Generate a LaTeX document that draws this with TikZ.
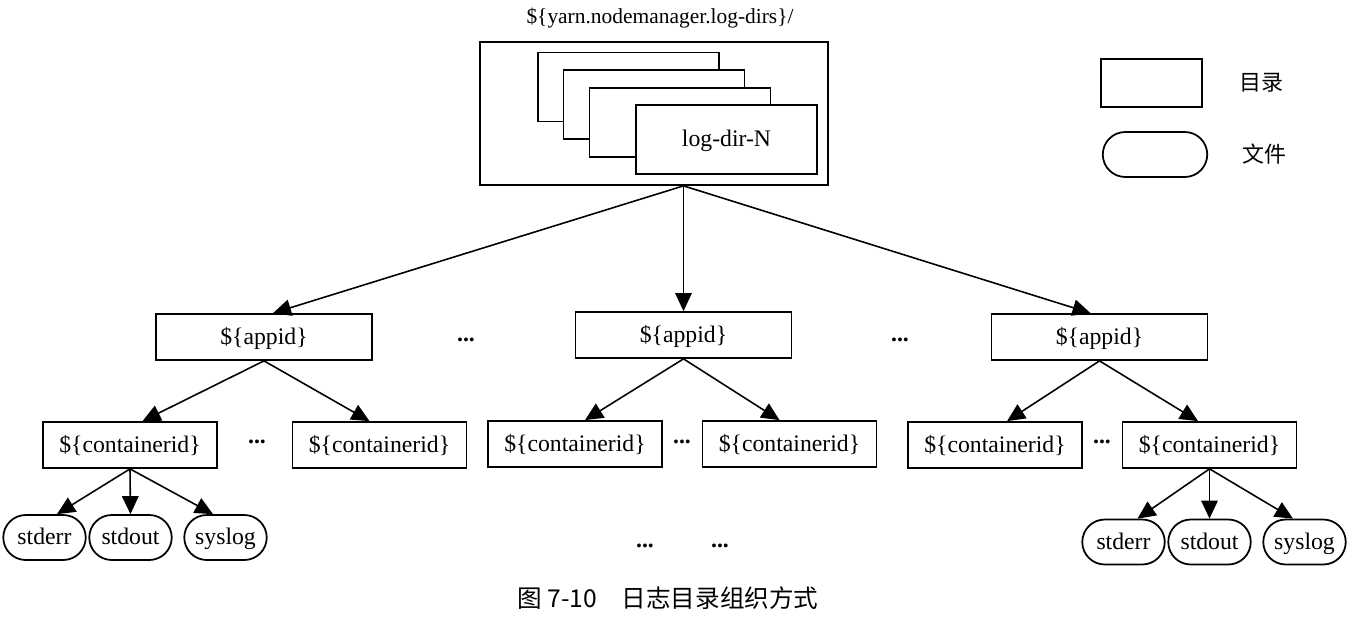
\documentclass[tikz,border=0pt]{standalone}
\usepackage{fontspec}
\setmainfont{Liberation Serif}
\newfontfamily\cjk{Noto Sans CJK SC}
\usepackage{tikz}
\usetikzlibrary{arrows.meta, shapes.misc, positioning, calc}
\tikzset{
  dirbox/.style={
    draw, line width=1pt, fill=white, inner sep=2pt,
    text height=10.5pt, text depth=2.5pt,
    minimum width=3.48cm, minimum height=0.92cm
  },
  appbox/.style={
    dirbox, minimum width=4.32cm
  },
  stackbox/.style={
    dirbox, minimum width=3.62cm, minimum height=1.38cm
  },
  filebox/.style={
    draw, rounded rectangle, line width=1pt, fill=white, inner sep=1pt,
    text height=10.5pt, text depth=2.5pt,
    minimum width=1.72cm, minimum height=0.9cm
  },
  treearrow/.style={
    -{Triangle[length=3.6mm, width=3.3mm]}, line width=0.9pt
  },
  ellipsis/.style={
    font=\fontsize{13.5}{16}\selectfont\bfseries
  },
  cjklabel/.style={
    font=\cjk\fontsize{12.5}{15}\selectfont
  },
}

\begin{document}
\begin{tikzpicture}[x=0.02cm, y=-0.02cm, font=\fontsize{13.5}{16}\selectfont]
  \useasboundingbox (0,0) rectangle (1355,622);

  % Root: log dirs
  \node[font=\fontsize{12.2}{15}\selectfont] (roottitle) at (660,18)
    {\$\{yarn.nodemanager.log-dirs\}/};
  \node[dirbox, minimum width=6.96cm, minimum height=2.86cm] (logdirs)
    at (654,113.5) {};
  \node[stackbox] (ld1) at (628.5,87) {};
  \node[stackbox] (ld2) at (654,104.5) {};
  \node[stackbox] (ld3) at (680,122.5) {};
  \node[stackbox] (ldN) at (726.5,139.5) {log-dir-N};

  % Legend
  \node[dirbox, minimum width=2.02cm, minimum height=0.96cm] (legdir)
    at (1151.5,83) {};
  \node[cjklabel, right=0.6cm of legdir] (legdirtext) {目录};
  \node[filebox, minimum width=2.16cm] (legfile) at (1155,154.5) {};
  \node[cjklabel, right=0.56cm of legfile] (legfiletext) {文件};

  % Application dirs
  \node[appbox] (app1) at (264,337) {\$\{appid\}};
  \node[appbox] (app2) at (683.5,335) {\$\{appid\}};
  \node[appbox] (app3) at (1099.5,337) {\$\{appid\}};
  \node[ellipsis] (appdots1) at (466,340) {...};
  \node[ellipsis] (appdots2) at (900,340) {...};

  % Container dirs
  \node[dirbox] (c11) at (130,445) {\$\{containerid\}};
  \node[dirbox] (c12) at (379.5,445) {\$\{containerid\}};
  \node[dirbox] (c21) at (575,444) {\$\{containerid\}};
  \node[dirbox] (c22) at (789.5,444) {\$\{containerid\}};
  \node[dirbox] (c31) at (995,445) {\$\{containerid\}};
  \node[dirbox] (c32) at (1209.5,445) {\$\{containerid\}};
  \node[ellipsis] (cdots1) at (257,442) {...};
  \node[ellipsis] (cdots2) at (682,442) {...};
  \node[ellipsis] (cdots3) at (1102,442) {...};

  % Log files
  \node[filebox] (stderr1) at (44.5,537.5) {stderr};
  \node[filebox] (stdout1) at (130.5,537.5) {stdout};
  \node[filebox] (syslog1) at (225.5,537.5) {syslog};
  \node[filebox] (stderr3) at (1123.5,542) {stderr};
  \node[filebox] (stdout3) at (1209.5,542) {stdout};
  \node[filebox] (syslog3) at (1304.5,542) {syslog};
  \node[ellipsis] (fdots1) at (645,546) {...};
  \node[ellipsis] (fdots2) at (720,546) {...};

  % Connectors
  \coordinate (fork) at (logdirs.south -| app2.north);
  \draw[treearrow] (fork) -- ([xshift=0.18cm]app1.north);
  \draw[treearrow] (fork) -- (app2.north);
  \draw[treearrow] (fork) -- ([xshift=-0.18cm]app3.north);

  \draw[treearrow] (app1.south) -- ([xshift=0.25cm]c11.north);
  \draw[treearrow] (app1.south) -- ([xshift=-0.2cm]c12.north);
  \draw[treearrow] (app2.south) -- ([xshift=0.2cm]c21.north);
  \draw[treearrow] (app2.south) -- ([xshift=-0.2cm]c22.north);
  \draw[treearrow] (app3.south) -- ([xshift=0.24cm]c31.north);
  \draw[treearrow] (app3.south) -- ([xshift=-0.23cm]c32.north);

  \draw[treearrow] (c11.south) -- ([xshift=0.25cm]stderr1.north);
  \draw[treearrow] (c11.south) -- (stdout1.north);
  \draw[treearrow] (c11.south) -- ([xshift=-0.25cm]syslog1.north);
  \draw[treearrow] (c32.south) -- ([xshift=0.28cm]stderr3.north);
  \draw[treearrow] (c32.south) -- (stdout3.north);
  \draw[treearrow] (c32.south) -- ([xshift=-0.23cm]syslog3.north);

  % Caption
  \node[font=\cjk\fontsize{14}{17}\selectfont] (caption) at (668,598)
    {图 7-10\quad 日志目录组织方式};
\end{tikzpicture}
\end{document}
